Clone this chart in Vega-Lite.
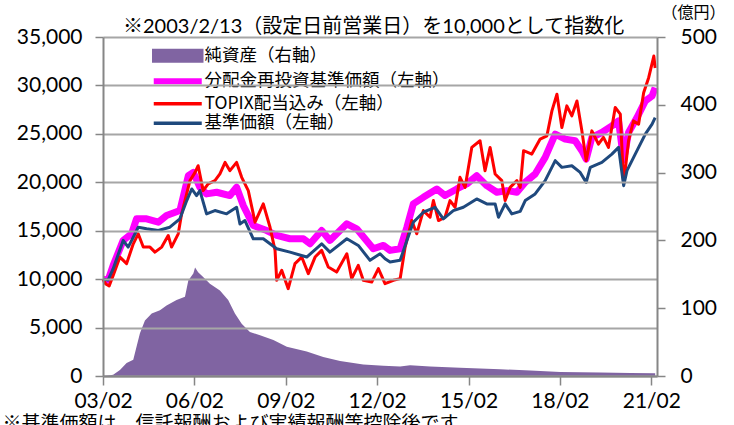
{
  "$schema": "https://vega.github.io/schema/vega-lite/v6.json",
  "width": 554,
  "height": 339,
  "autosize": {"type": "none"},
  "padding": {"left": 103, "top": 37, "right": 77, "bottom": 49},
  "background": "white",
  "config": {
    "view": {"stroke": null},
    "font": "Lato, Noto Sans CJK JP",
    "axis": {
      "labelFont": "Lato, Noto Sans CJK JP",
      "labelFontSize": 21,
      "labelColor": "black",
      "domainColor": "#868686",
      "domainWidth": 2,
      "tickColor": "#868686",
      "tickWidth": 1.5,
      "labelFlush": false,
      "labelOverlap": false
    },
    "legend": {
      "title": null,
      "orient": "none",
      "legendX": 66,
      "legendY": 10,
      "symbolSize": 100,
      "labelOffset": 18,
      "rowPadding": 0.5,
      "labelFont": "Noto Sans CJK JP",
      "labelFontSize": 17.5,
      "labelColor": "black",
      "labelLimit": 400
    }
  },
  "title": {
    "text": "※2003/2/13（設定日前営業日）を10,000として指数化",
    "anchor": "start",
    "frame": "group",
    "dx": 20,
    "dy": 57,
    "offset": 8,
    "baseline": "alphabetic",
    "fontSize": 20,
    "fontWeight": "normal",
    "font": "Lato, Noto Sans CJK JP",
    "color": "black"
  },
  "datasets": {
    "assets": [
      {"d": "2003-02-13", "v": 0}, {"d": "2003-05-06", "v": 1}, {"d": "2003-06-15", "v": 2},
      {"d": "2003-09-04", "v": 9}, {"d": "2003-11-23", "v": 19}, {"d": "2004-02-11", "v": 24},
      {"d": "2004-03-21", "v": 43}, {"d": "2004-05-01", "v": 63}, {"d": "2004-06-30", "v": 82},
      {"d": "2004-09-19", "v": 92}, {"d": "2004-12-27", "v": 97}, {"d": "2005-03-16", "v": 104},
      {"d": "2005-07-14", "v": 112}, {"d": "2005-10-23", "v": 117}, {"d": "2005-12-02", "v": 141},
      {"d": "2006-01-31", "v": 151}, {"d": "2006-02-21", "v": 160}, {"d": "2006-03-30", "v": 153},
      {"d": "2006-05-29", "v": 146}, {"d": "2006-08-18", "v": 136}, {"d": "2006-12-16", "v": 126},
      {"d": "2007-03-25", "v": 112}, {"d": "2007-06-14", "v": 92}, {"d": "2007-09-03", "v": 77},
      {"d": "2007-12-11", "v": 65}, {"d": "2008-04-10", "v": 60}, {"d": "2008-09-17", "v": 53},
      {"d": "2009-02-25", "v": 43}, {"d": "2009-10-22", "v": 36}, {"d": "2010-05-08", "v": 28},
      {"d": "2010-11-26", "v": 22}, {"d": "2011-08-31", "v": 17}, {"d": "2012-04-28", "v": 15},
      {"d": "2012-11-15", "v": 14}, {"d": "2013-03-14", "v": 16}, {"d": "2013-11-09", "v": 14},
      {"d": "2014-11-03", "v": 12}, {"d": "2016-02-28", "v": 10}, {"d": "2017-02-22", "v": 8},
      {"d": "2018-02-18", "v": 6}, {"d": "2019-06-10", "v": 5}, {"d": "2020-06-06", "v": 4.5},
      {"d": "2021-03-31", "v": 4}
    ],
    "reinvest": [
      {"d": "2003-02-13", "v": 10000}, {"d": "2003-04-15", "v": 9900}, {"d": "2003-06-15", "v": 11420},
      {"d": "2003-10-13", "v": 14000}, {"d": "2004-01-22", "v": 14700}, {"d": "2004-03-21", "v": 16230},
      {"d": "2004-07-20", "v": 16230}, {"d": "2004-12-07", "v": 15880}, {"d": "2005-03-16", "v": 16570},
      {"d": "2005-08-23", "v": 17080}, {"d": "2005-12-02", "v": 20680}, {"d": "2006-01-31", "v": 21020},
      {"d": "2006-04-20", "v": 19480}, {"d": "2006-07-09", "v": 18800}, {"d": "2006-11-07", "v": 18970},
      {"d": "2007-04-15", "v": 18630}, {"d": "2007-07-04", "v": 19480}, {"d": "2007-09-22", "v": 17600},
      {"d": "2008-01-20", "v": 15540}, {"d": "2008-06-29", "v": 15020}, {"d": "2008-10-27", "v": 14510},
      {"d": "2009-04-04", "v": 14170}, {"d": "2009-09-12", "v": 14170}, {"d": "2009-12-01", "v": 13650},
      {"d": "2010-04-19", "v": 15020}, {"d": "2010-07-27", "v": 14000}, {"d": "2011-02-15", "v": 15710},
      {"d": "2011-06-13", "v": 15200}, {"d": "2011-12-29", "v": 13140}, {"d": "2012-04-28", "v": 13480},
      {"d": "2012-07-17", "v": 12970}, {"d": "2012-11-15", "v": 13140}, {"d": "2013-02-04", "v": 15360},
      {"d": "2013-04-22", "v": 17770}, {"d": "2013-08-20", "v": 18450}, {"d": "2014-01-29", "v": 19310},
      {"d": "2014-05-07", "v": 18630}, {"d": "2014-09-25", "v": 19310}, {"d": "2015-01-23", "v": 19830},
      {"d": "2015-05-22", "v": 20680}, {"d": "2015-09-20", "v": 19650}, {"d": "2016-01-19", "v": 18970},
      {"d": "2016-05-17", "v": 19140}, {"d": "2016-09-15", "v": 18970}, {"d": "2016-12-24", "v": 20000},
      {"d": "2017-04-22", "v": 20860}, {"d": "2017-08-20", "v": 22570}, {"d": "2017-12-19", "v": 24970},
      {"d": "2018-04-17", "v": 24460}, {"d": "2018-08-15", "v": 24290}, {"d": "2018-11-03", "v": 23260},
      {"d": "2018-12-25", "v": 22400}, {"d": "2019-03-03", "v": 24630}, {"d": "2019-07-01", "v": 25140},
      {"d": "2019-10-29", "v": 25830}, {"d": "2020-01-17", "v": 26340}, {"d": "2020-03-18", "v": 22300},
      {"d": "2020-05-16", "v": 25140}, {"d": "2020-08-25", "v": 26680}, {"d": "2020-12-03", "v": 28400},
      {"d": "2021-02-22", "v": 28910}, {"d": "2021-03-31", "v": 29770}
    ],
    "topix": [
      {"d": "2003-02-13", "v": 10000}, {"d": "2003-03-18", "v": 9500}, {"d": "2003-04-28", "v": 9300},
      {"d": "2003-06-15", "v": 10390}, {"d": "2003-09-04", "v": 12280}, {"d": "2003-11-23", "v": 11600},
      {"d": "2004-02-11", "v": 13650}, {"d": "2004-04-10", "v": 14680}, {"d": "2004-06-10", "v": 13310},
      {"d": "2004-08-29", "v": 13310}, {"d": "2004-10-28", "v": 12790}, {"d": "2005-01-17", "v": 13310},
      {"d": "2005-04-05", "v": 14510}, {"d": "2005-05-15", "v": 13310}, {"d": "2005-08-03", "v": 14680},
      {"d": "2005-09-13", "v": 16740}, {"d": "2005-12-22", "v": 20170}, {"d": "2006-02-21", "v": 21020},
      {"d": "2006-03-30", "v": 21710}, {"d": "2006-05-29", "v": 19140}, {"d": "2006-07-28", "v": 19830},
      {"d": "2006-10-17", "v": 20170}, {"d": "2006-12-16", "v": 20860}, {"d": "2007-02-16", "v": 22050},
      {"d": "2007-04-15", "v": 21200}, {"d": "2007-07-04", "v": 22050}, {"d": "2007-09-03", "v": 20510},
      {"d": "2007-11-21", "v": 19140}, {"d": "2008-02-10", "v": 15880}, {"d": "2008-05-19", "v": 17770},
      {"d": "2008-08-08", "v": 15360}, {"d": "2008-10-07", "v": 12970}, {"d": "2008-10-27", "v": 9880},
      {"d": "2008-12-26", "v": 10910}, {"d": "2009-03-14", "v": 9020}, {"d": "2009-06-03", "v": 11600},
      {"d": "2009-08-23", "v": 12280}, {"d": "2009-11-10", "v": 10570}, {"d": "2010-01-30", "v": 12280},
      {"d": "2010-04-19", "v": 12970}, {"d": "2010-07-07", "v": 11250}, {"d": "2010-10-16", "v": 10730},
      {"d": "2011-02-15", "v": 12620}, {"d": "2011-04-14", "v": 10050}, {"d": "2011-07-02", "v": 11420},
      {"d": "2011-08-31", "v": 9880}, {"d": "2011-12-10", "v": 9700}, {"d": "2012-02-28", "v": 11080},
      {"d": "2012-05-18", "v": 9540}, {"d": "2012-08-26", "v": 9880}, {"d": "2012-11-15", "v": 10050},
      {"d": "2013-01-14", "v": 13310}, {"d": "2013-04-03", "v": 16050}, {"d": "2013-06-02", "v": 14680},
      {"d": "2013-08-20", "v": 17080}, {"d": "2013-11-09", "v": 16390}, {"d": "2013-12-19", "v": 18110},
      {"d": "2014-02-18", "v": 16050}, {"d": "2014-05-07", "v": 16390}, {"d": "2014-07-06", "v": 18110},
      {"d": "2014-09-05", "v": 17420}, {"d": "2014-11-03", "v": 20510}, {"d": "2015-01-03", "v": 19480},
      {"d": "2015-03-24", "v": 23600}, {"d": "2015-07-01", "v": 24290}, {"d": "2015-08-30", "v": 21200},
      {"d": "2015-10-30", "v": 23600}, {"d": "2015-12-29", "v": 20860}, {"d": "2016-03-18", "v": 20170},
      {"d": "2016-04-27", "v": 18110}, {"d": "2016-06-26", "v": 19480}, {"d": "2016-09-15", "v": 20170},
      {"d": "2016-10-25", "v": 19480}, {"d": "2016-12-04", "v": 23260}, {"d": "2017-03-13", "v": 22910},
      {"d": "2017-06-21", "v": 24460}, {"d": "2017-09-10", "v": 24800}, {"d": "2017-11-09", "v": 27370},
      {"d": "2018-01-08", "v": 29090}, {"d": "2018-03-08", "v": 25650}, {"d": "2018-05-07", "v": 27890},
      {"d": "2018-07-06", "v": 26860}, {"d": "2018-09-05", "v": 28400}, {"d": "2018-11-03", "v": 25310},
      {"d": "2018-12-25", "v": 22230}, {"d": "2019-03-03", "v": 25310}, {"d": "2019-05-21", "v": 23940},
      {"d": "2019-07-20", "v": 24630}, {"d": "2019-09-18", "v": 23600}, {"d": "2019-12-08", "v": 27720},
      {"d": "2020-02-07", "v": 27030}, {"d": "2020-03-18", "v": 19830}, {"d": "2020-05-16", "v": 24290},
      {"d": "2020-07-15", "v": 26340}, {"d": "2020-09-13", "v": 26000}, {"d": "2020-11-13", "v": 29250},
      {"d": "2021-01-12", "v": 30800}, {"d": "2021-03-15", "v": 33030}, {"d": "2021-03-31", "v": 31800}
    ],
    "nav": [
      {"d": "2003-02-13", "v": 10000}, {"d": "2003-04-15", "v": 9900}, {"d": "2003-06-15", "v": 11080},
      {"d": "2003-10-13", "v": 14000}, {"d": "2003-12-12", "v": 13310}, {"d": "2004-02-11", "v": 14330},
      {"d": "2004-04-10", "v": 15360}, {"d": "2004-07-20", "v": 15200}, {"d": "2004-12-07", "v": 15020},
      {"d": "2005-04-25", "v": 15360}, {"d": "2005-08-23", "v": 16230}, {"d": "2005-11-13", "v": 18110},
      {"d": "2006-01-12", "v": 19310}, {"d": "2006-03-11", "v": 18630}, {"d": "2006-04-20", "v": 19140},
      {"d": "2006-07-09", "v": 16740}, {"d": "2006-10-17", "v": 17080}, {"d": "2007-03-06", "v": 16740},
      {"d": "2007-07-04", "v": 17420}, {"d": "2007-08-13", "v": 15700}, {"d": "2007-10-12", "v": 16050},
      {"d": "2008-01-20", "v": 14170}, {"d": "2008-05-19", "v": 14170}, {"d": "2008-10-27", "v": 13140},
      {"d": "2009-04-04", "v": 12790}, {"d": "2009-10-22", "v": 12280}, {"d": "2010-04-19", "v": 13650},
      {"d": "2010-07-27", "v": 12790}, {"d": "2011-02-15", "v": 14170}, {"d": "2011-07-02", "v": 13480},
      {"d": "2011-11-20", "v": 11940}, {"d": "2012-03-19", "v": 12620}, {"d": "2012-05-18", "v": 12100},
      {"d": "2012-07-17", "v": 11760}, {"d": "2012-11-15", "v": 11940}, {"d": "2013-02-04", "v": 14000},
      {"d": "2013-04-22", "v": 15880}, {"d": "2013-08-20", "v": 16910}, {"d": "2014-01-08", "v": 17420},
      {"d": "2014-04-17", "v": 16230}, {"d": "2014-08-15", "v": 17080}, {"d": "2014-12-13", "v": 17420},
      {"d": "2015-05-22", "v": 18280}, {"d": "2015-09-20", "v": 17770}, {"d": "2015-12-29", "v": 17770},
      {"d": "2016-02-07", "v": 16390}, {"d": "2016-04-27", "v": 17770}, {"d": "2016-07-16", "v": 16740},
      {"d": "2016-10-25", "v": 17000}, {"d": "2016-12-24", "v": 18110}, {"d": "2017-04-22", "v": 18800},
      {"d": "2017-08-20", "v": 20170}, {"d": "2017-12-19", "v": 22230}, {"d": "2018-03-08", "v": 21540},
      {"d": "2018-07-06", "v": 21710}, {"d": "2018-10-14", "v": 21020}, {"d": "2018-12-25", "v": 19990},
      {"d": "2019-02-12", "v": 21540}, {"d": "2019-07-01", "v": 22050}, {"d": "2019-10-29", "v": 22910},
      {"d": "2020-01-17", "v": 23600}, {"d": "2020-03-18", "v": 19650}, {"d": "2020-04-27", "v": 21200},
      {"d": "2020-08-04", "v": 22910}, {"d": "2020-12-03", "v": 24970}, {"d": "2021-02-22", "v": 26000},
      {"d": "2021-03-31", "v": 26680}
    ]
  },
  "encoding": {
    "x": {
      "field": "d",
      "type": "temporal",
      "scale": {"domain": [{"year": 2003, "month": 2, "date": 13}, {"year": 2021, "month": 4, "date": 22}]},
      "axis": {
        "values": [
          {"year": 2003, "month": 2, "date": 13}, {"year": 2006, "month": 2, "date": 13},
          {"year": 2009, "month": 2, "date": 13}, {"year": 2012, "month": 2, "date": 13},
          {"year": 2015, "month": 2, "date": 13}, {"year": 2018, "month": 2, "date": 13},
          {"year": 2021, "month": 2, "date": 13}
        ],
        "format": "%y/%m",
        "grid": false,
        "tickSize": 9,
        "labelPadding": 5,
        "zindex": 1,
        "title": "※基準価額は、信託報酬および実績報酬等控除後です。",
        "titleX": -101,
        "titleY": 53,
        "titleAlign": "left",
        "titleAnchor": "start",
        "titleBaseline": "alphabetic",
        "titleFont": "Noto Sans CJK JP",
        "titleFontSize": 19,
        "titleFontWeight": "normal",
        "titleColor": "black"
      }
    }
  },
  "layer": [
    {
      "data": {"name": "assets"},
      "mark": {"type": "area", "opacity": 1},
      "encoding": {
        "y": {
          "field": "v",
          "type": "quantitative",
          "scale": {"domain": [0, 500], "nice": false},
          "axis": {
            "orient": "right",
            "values": [0, 100, 200, 300, 400, 500],
            "grid": false,
            "tickSize": 8,
            "labelPadding": 15,
            "zindex": 1,
            "title": "（億円）",
            "titleAngle": 0,
            "titleX": 36,
            "titleY": -25,
            "titleAlign": "center",
            "titleBaseline": "middle",
            "titleFont": "Noto Sans CJK JP",
            "titleFontSize": 16,
            "titleFontWeight": "normal",
            "titleColor": "black"
          }
        },
        "color": {
          "datum": "純資産（右軸）",
          "scale": {
            "domain": ["純資産（右軸）", "分配金再投資基準価額（左軸）", "TOPIX配当込み（左軸）", "基準価額（左軸）"],
            "range": ["#8064A2", "#FF00FF", "#FF0000", "#1F497D"]
          },
          "legend": {
            "encode": {
              "symbols": {
                "update": {
                  "shape": {"signal": "datum.value === '純資産（右軸）' ? 'M-4.8,-1.05H4.8V1.05H-4.8Z' : 'M-4.8,0H4.8'"},
                  "fill": {"signal": "datum.value === '純資産（右軸）' ? '#8064A2' : 'transparent'"},
                  "stroke": {"signal": "datum.value === '純資産（右軸）' ? 'transparent' : datum.value === '分配金再投資基準価額（左軸）' ? '#FF00FF' : datum.value === 'TOPIX配当込み（左軸）' ? '#FF0000' : '#1F497D'"},
                  "strokeWidth": {"signal": "datum.value === '分配金再投資基準価額（左軸）' ? 6 : 3.5"},
                  "opacity": {"value": 1}
                }
              }
            }
          }
        }
      }
    },
    {
      "encoding": {
        "y": {
          "field": "v",
          "type": "quantitative",
          "scale": {"domain": [0, 35000], "nice": false},
          "axis": {
            "orient": "left",
            "values": [0, 5000, 10000, 15000, 20000, 25000, 30000, 35000],
            "format": ",.0f",
            "grid": true,
            "gridColor": "#a6a6a6",
            "gridWidth": 2,
            "tickSize": 8,
            "labelPadding": 13,
            "zindex": 1,
            "title": null
          }
        }
      },
      "layer": [
        {
          "data": {"name": "reinvest"},
          "mark": {"type": "line", "strokeWidth": 7, "strokeJoin": "round"},
          "encoding": {"color": {"datum": "分配金再投資基準価額（左軸）", "legend": {
            "encode": {
              "symbols": {
                "update": {
                  "shape": {"signal": "datum.value === '純資産（右軸）' ? 'M-4.8,-1.05H4.8V1.05H-4.8Z' : 'M-4.8,0H4.8'"},
                  "fill": {"signal": "datum.value === '純資産（右軸）' ? '#8064A2' : 'transparent'"},
                  "stroke": {"signal": "datum.value === '純資産（右軸）' ? 'transparent' : datum.value === '分配金再投資基準価額（左軸）' ? '#FF00FF' : datum.value === 'TOPIX配当込み（左軸）' ? '#FF0000' : '#1F497D'"},
                  "strokeWidth": {"signal": "datum.value === '分配金再投資基準価額（左軸）' ? 6 : 3.5"},
                  "opacity": {"value": 1}
                }
              }
            }
          }}}
        },
        {
          "data": {"name": "topix"},
          "mark": {"type": "line", "strokeWidth": 3, "strokeJoin": "round"},
          "encoding": {"color": {"datum": "TOPIX配当込み（左軸）"}}
        },
        {
          "data": {"name": "nav"},
          "mark": {"type": "line", "strokeWidth": 3, "strokeJoin": "round"},
          "encoding": {"color": {"datum": "基準価額（左軸）"}}
        }
      ]
    }
  ],
  "resolve": {"scale": {"y": "independent"}}
}
